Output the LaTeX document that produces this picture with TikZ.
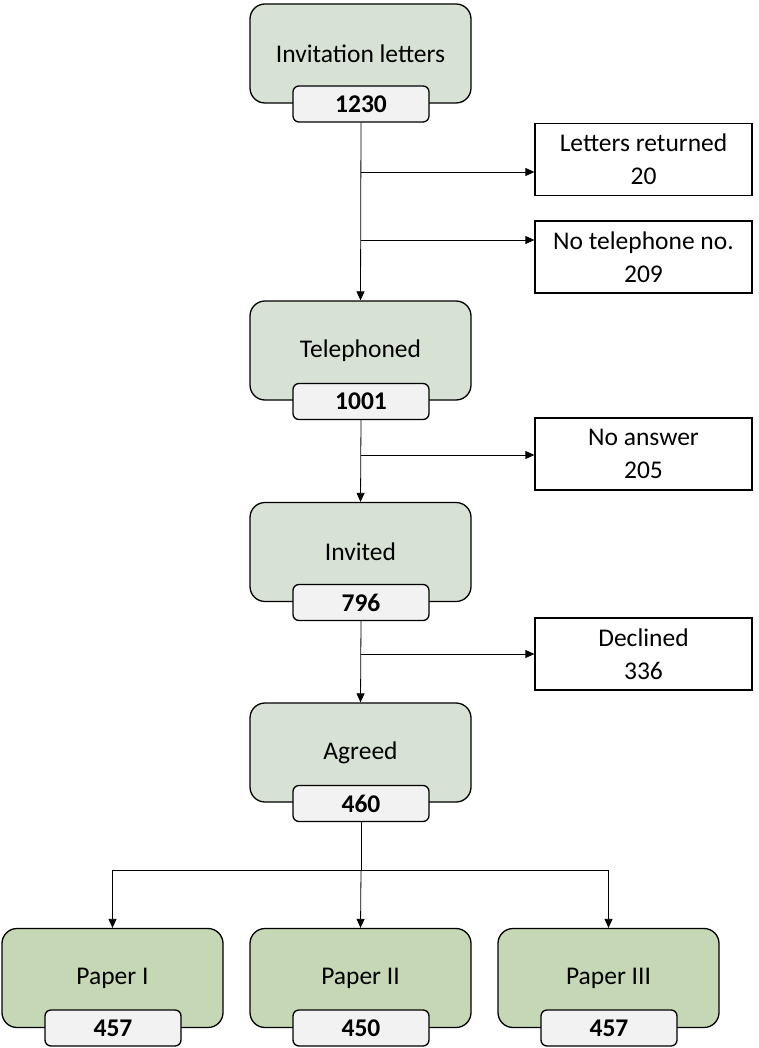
\documentclass[tikz,border=0pt]{standalone}
\usepackage{fontspec}
\setmainfont{Carlito}
\usetikzlibrary{arrows.meta}
\definecolor{mainfill}{HTML}{D7E1D4}
\definecolor{paperfill}{HTML}{C5D7B5}
\definecolor{numfill}{HTML}{F2F2F2}
\begin{document}
\begin{tikzpicture}[x=1pt,y=-1pt,
  mainbox/.style={draw=black,line width=1.3pt,fill=mainfill,rounded corners=15pt,minimum width=221pt,minimum height=99pt,inner sep=0pt,font=\fontsize{25.5}{30}\selectfont},
  paperbox/.style={mainbox,fill=paperfill},
  numbox/.style={draw=black,line width=1.3pt,fill=numfill,rounded corners=6pt,minimum width=136pt,minimum height=36pt,inner sep=0pt,font=\fontsize{25.5}{30}\selectfont\bfseries},
  sidebox/.style={draw=black,line width=1.3pt,fill=white,minimum width=217pt,minimum height=72pt,inner sep=0pt,align=center,font=\fontsize{25.5}{33}\selectfont},
  arr/.style={-{Triangle[length=9pt,width=8pt]},line width=0.8pt},
  ln/.style={line width=0.8pt}]
\useasboundingbox (0,0) rectangle (758,1048);
% main boxes
\node[mainbox] (inv) at (360.5,53.5) {Invitation letters};
\node[numbox] (invn) at (361,104) {1230};
\node[mainbox] (tel) at (360.5,350.5) {Telephoned};
\node[numbox] (teln) at (361,401.5) {1001};
\node[mainbox] (ivd) at (360.5,552) {Invited};
\node[numbox] (ivdn) at (361,602.5) {796};
\node[mainbox] (agr) at (360.5,752.5) {Agreed};
\node[numbox] (agrn) at (361,803.5) {460};
% papers
\node[paperbox] (p1) at (112.5,978) {Paper I};
\node[numbox] (p1n) at (113,1028) {457};
\node[paperbox] (p2) at (360.5,978) {Paper II};
\node[numbox] (p2n) at (361,1028) {450};
\node[paperbox] (p3) at (608.5,978) {Paper III};
\node[numbox] (p3n) at (609,1028) {457};
% side boxes
\node[sidebox] (ret) at (643.5,159.5) {Letters returned\\20};
\node[sidebox] (ntel) at (643.5,257) {No telephone no.\\209};
\node[sidebox] (nans) at (643.5,454) {No answer\\205};
\node[sidebox] (dec) at (643.5,654) {Declined\\336};
% trunk connectors
\draw[arr] (invn.south) -- (tel.north);
\draw[arr] (teln.south) -- (ivd.north);
\draw[arr] (ivdn.south) -- (agr.north);
\coordinate (b1) at (361,172);
\coordinate (b2) at (361,240);
\coordinate (b3) at (361,455);
\coordinate (b4) at (361,654);
\draw[arr] (b1) -- (b1 -| ret.west);
\draw[arr] (b2) -- (b2 -| ntel.west);
\draw[arr] (b3) -- (b3 -| nans.west);
\draw[arr] (b4) -- (b4 -| dec.west);
% split
\coordinate (sp) at (361,870);
\draw[ln] (agrn.south) -- (sp);
\draw[arr] (sp) -- (p2.north);
\draw[arr] (sp) -| (p1.north);
\draw[arr] (sp) -| (p3.north);
\end{tikzpicture}
\end{document}
